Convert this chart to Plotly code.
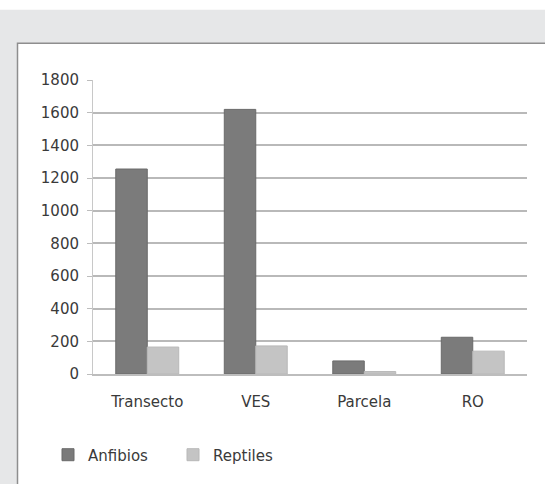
import plotly.graph_objects as go

# Survey method categories and counts per group
metodos = ["Transecto", "VES", "Parcela", "RO"]
anfibios = [1255, 1620, 80, 225]
reptiles = [165, 172, 15, 140]
y_ticks = [0, 200, 400, 600, 800, 1000, 1200, 1400, 1600, 1800]

W, H = 545, 484
L, R, T, B = 93, 18, 80, 103
pw, ph = W - L - R, H - T - B


def px_x(p):
    return (p - L) / pw


def px_y(p):
    return (H - B - p) / ph


fig = go.Figure()
fig.add_trace(go.Bar(
    x=metodos, y=anfibios, name="Anfibios",
    marker=dict(color="#7b7b7b", line=dict(color="#6a6a6a", width=1)),
))
fig.add_trace(go.Bar(
    x=metodos, y=reptiles, name="Reptiles",
    marker=dict(color="#c4c4c4", line=dict(color="#b8b8b8", width=1)),
))

shapes = [
    # white strip along the top edge
    dict(type="rect", xref="paper", yref="paper", layer="below",
         x0=px_x(-5), x1=px_x(W + 5), y0=px_y(8), y1=px_y(-5),
         fillcolor="white", line=dict(width=0)),
    # white chart panel with a grey frame
    dict(type="rect", xref="paper", yref="paper", layer="below",
         x0=px_x(17.5), x1=px_x(W + 20), y0=px_y(H + 20), y1=px_y(42.5),
         fillcolor="white", line=dict(color="#8e8e8e", width=1.5)),
]

fig.update_layout(
    width=W, height=H,
    margin=dict(l=L, r=R, t=T, b=B),
    paper_bgcolor="#e6e7e8",
    plot_bgcolor="rgba(0,0,0,0)",
    barmode="group",
    bargap=0.42,
    bargroupgap=0,
    font=dict(family="DejaVu Sans", size=15, color="#3a3a3a"),
    shapes=shapes,
    showlegend=True,
    legend=dict(
        orientation="h", x=px_x(48), y=px_y(447), xanchor="left", yanchor="top",
        bgcolor="rgba(0,0,0,0)", font=dict(size=15, color="#3a3a3a"),
        itemwidth=30, traceorder="normal",
        entrywidth=80, entrywidthmode="pixels",
    ),
    xaxis=dict(
        showgrid=False, showline=True, linecolor="#bdbdbd", linewidth=1.5,
        ticks="", tickfont=dict(size=15), ticklabelstandoff=13,
    ),
    yaxis=dict(
        range=[0, 1800], tickvals=y_ticks,
        showgrid=True, gridcolor="#b9b9b9", gridwidth=2,
        zeroline=False, showline=True, linecolor="#c8c8c8", linewidth=1,
        ticks="outside", ticklen=5, tickcolor="#bdbdbd",
        tickfont=dict(size=15), ticklabelstandoff=5,
    ),
)

fig.write_html("out.html")
